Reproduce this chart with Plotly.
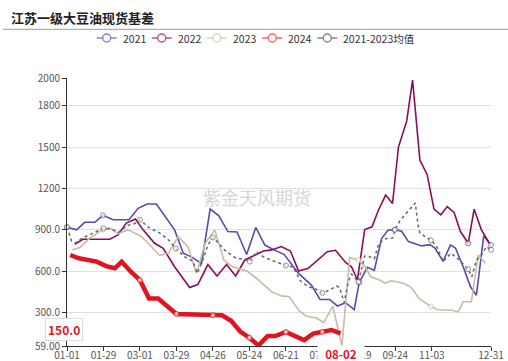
import plotly.graph_objects as go

# ---------------- data (x = position along the category axis, half-category units) ----------------
x_2021 = [0, 2.1, 3.9, 6.1, 7.9, 10.1, 13.6, 15.6, 17.6, 19.6, 23.6, 25.5, 27.6, 29.5, 31.4, 33.3, 35.3, 37.3, 39.4, 41.4,
          43.4, 45.4, 47.6, 50.8, 53.6, 55.5, 57.6, 59.3, 61.1, 63, 64.1, 65.9, 67.4, 69, 70.4, 71.9, 73.4, 74.9, 77.8, 79.6,
          80.7, 82.5, 84.1, 85.2, 86.9, 88.5, 89.8, 91.4, 93]
y_2021 = [920, 900, 955, 955, 1005, 973, 973, 1056, 1087, 1087, 900, 731, 699, 655, 1051, 1002, 888, 885, 722, 918,
          790, 755, 723, 585, 500, 396, 396, 349, 373, 323, 520, 629, 606, 837, 897, 902, 890, 815, 784, 793,
          769, 672, 791, 769, 633, 488, 427, 856, 791]

x_2022 = [1.7, 3.5, 9.4, 11.2, 13, 15, 16.7, 19.2, 21.1, 23.6, 26.9, 28.7, 30.9, 32.9, 35, 37, 39, 43.1, 44.9, 47,
          49, 50.8, 52.9, 57.1, 58.9, 61.1, 62.4, 63.7, 65.3, 66.9, 68.3, 69.9, 71.4, 72.7, 74.5, 75.8, 77.4, 79, 80.5, 82,
          83.4, 84.9, 86.3, 88, 89.3, 90.9, 92.6]
y_2022 = [796, 832, 832, 864, 949, 979, 900, 803, 767, 633, 483, 504, 649, 566, 649, 566, 682, 747, 755, 779,
          747, 602, 622, 742, 752, 664, 633, 539, 902, 922, 1042, 1152, 1091, 1500, 1687, 1985, 1405, 1300, 1050, 1009,
          1069, 1026, 888, 803, 1050, 900, 805]

x_2023 = [1.2, 2.9, 5, 7.9, 9.4, 11.2, 13.4, 16.3, 18.3, 20.3, 22.3, 24.4, 26.6, 28.4, 30.3, 32.4, 34.4, 36.4, 39.5, 41.9,
          44.9, 47.2, 48.7, 50.9, 52.5, 54.7, 56.3, 58.3, 60.3, 62, 63.9, 65.3, 66.6, 68.8, 69.7, 71.2, 73.9, 75.5, 77.2, 79.8,
          81.4, 84.4, 85.8, 86.9, 88.7, 90.2, 91.8]
y_2023 = [755, 774, 840, 902, 915, 873, 900, 853, 787, 715, 733, 851, 774, 585, 803, 900, 682, 631, 602, 539,
          452, 420, 417, 315, 275, 262, 229, 347, 59, 699, 682, 638, 562, 533, 515, 531, 511, 484, 404, 345,
          322, 318, 306, 379, 379, 718, 658]

x_2024 = [0.7, 2.6, 6.5, 8.6, 10.5, 12, 14, 16, 18, 20, 24, 27, 32, 34, 36, 38, 40, 42, 44, 45.7,
          48, 50, 52, 54, 56, 58, 60]
y_2024 = [718, 694, 670, 638, 622, 670, 597, 536, 403, 403, 291, 289, 282, 282, 242, 164, 119, 63, 131, 131,
          161, 131, 102, 149, 161, 175, 150]

x_avg = [0, 1, 1.9, 3.3, 5.4, 8, 10.1, 11.3, 13.2, 14.9, 16, 17.9, 20.3, 22.3, 23.9, 25.6, 27.5, 28.6, 30.2, 30.9,
         32, 33.1, 34.5, 36.8, 38.6, 40.1, 41.5, 43, 44.7, 48, 49.6, 51.2, 52.9, 54.4, 56, 57.6, 59.1, 59.8, 60.8, 61.7,
         62.4, 63.9, 65.3, 66.4, 67.4, 68.4, 69.7, 71.5, 71.9, 73, 74.3, 75.5, 76.4, 77, 77.4, 79.8, 81.1, 82.5, 84.2, 85.6,
         88, 88.8, 89.8, 90.8, 92, 93]
y_avg = [920, 820, 805, 840, 871, 912, 902, 882, 931, 946, 973, 918, 878, 827, 764, 709, 675, 585, 718, 791,
         845, 809, 755, 700, 687, 670, 742, 706, 682, 642, 631, 531, 488, 475, 444, 464, 493, 482, 373, 524,
         580, 524, 711, 706, 689, 803, 835, 842, 900, 965, 1016, 1060, 1094, 936, 876, 825, 779, 670, 731, 696,
         615, 560, 682, 711, 779, 755]

tick_pos = [0, 8, 16, 24, 32, 40, 48, 56, 64, 72, 80, 93]
tick_labels = ["01-01", "01-29", "03-01", "03-29", "04-26", "05-24", "06-21", "07-19", "08-19", "09-24", "11-03", "12-31"]
symbol_pos = [0, 8, 16, 24, 32, 40, 48, 56, 64, 72, 80, 88, 93]

y_ticks = [59, 300, 600, 900, 1200, 1500, 1800, 2000]
y_tick_labels = ["59.00", "300.0", "600.0", "900.0", "1200", "1500", "1800", "2000"]

names = ["2021", "2022", "2023", "2024", "2021-2023均值"]
colors = ["#5B4BA6", "#880E5C", "#C9BBA6", "#E0141E", "#666666"]
legend_colors = ["#8F83C8", "#B0578C", "#DCD1C3", "#F06A6A", "#8A8A8A"]

pointer_x = 60
pointer_x_label = "08-02"
pointer_y = 150
pointer_y_label = "150.0"

FONT = "Noto Sans CJK SC, Open Sans, sans-serif"

# ---------------- figure ----------------
W, H = 508, 361
ML, MR, MT, MB = 67, 17, 78, 15
PW, PH = W - ML - MR, H - MT - MB


def px(xp):
    return (xp - ML) / PW


def py(yp):
    return (H - MB - yp) / PH


def sizes(xs, s=5):
    return [s if min(abs(v - m) for m in symbol_pos) <= 0.25 else 0 for v in xs]


fig = go.Figure()
series = [(x_2021, y_2021), (x_2022, y_2022), (x_2023, y_2023), (x_2024, y_2024), (x_avg, y_avg)]
widths = [1.6, 1.6, 1.6, 4.5, 1.5]
for i, (xs, ys) in enumerate(series):
    fig.add_trace(go.Scatter(
        x=xs, y=ys, name=names[i], mode="lines+markers",
        line=dict(color=colors[i], width=widths[i], dash="dot" if i == 4 else "solid"),
        marker=dict(size=sizes(xs), color="white", line=dict(color=colors[i], width=1)),
        cliponaxis=False, showlegend=False,
    ))

shapes = []
annotations = []

# title + separator line
annotations.append(dict(text="<b>江苏一级大豆油现货基差</b>", xref="paper", yref="paper",
                        x=px(9), y=py(17.5), xanchor="left", yanchor="middle", showarrow=False,
                        font=dict(family=FONT, size=13, color="#222")))
shapes.append(dict(type="line", xref="paper", yref="paper", x0=px(3), x1=px(508), y0=py(29.3), y1=py(29.3),
                   line=dict(color="#9a9a9a", width=1)))

# custom legend
leg_x = [96.7, 151.7, 206.7, 262.3, 317.3]
leg_y = 38
for i, sx in enumerate(leg_x):
    shapes.append(dict(type="line", xref="paper", yref="paper", x0=px(sx), x1=px(sx + 20),
                       y0=py(leg_y), y1=py(leg_y), line=dict(color=legend_colors[i], width=1.5)))
    shapes.append(dict(type="circle", xref="paper", yref="paper", x0=px(sx + 6), x1=px(sx + 14),
                       y0=py(leg_y + 4), y1=py(leg_y - 4), fillcolor="white",
                       line=dict(color=legend_colors[i], width=1.5)))
    annotations.append(dict(text=names[i], xref="paper", yref="paper", x=px(sx + 24), y=py(leg_y),
                            xanchor="left", yanchor="middle", showarrow=False,
                            font=dict(family=FONT, size=10.5, color="#333")))

# watermark
annotations.append(dict(text="紫金天风期货", xref="paper", yref="paper", x=px(257), y=py(196.7),
                        showarrow=False, font=dict(family=FONT, size=18, color="#d6d6d6")))

# axis pointer labels
annotations.append(dict(text="<b>%s</b>" % pointer_x_label, xref="x", yref="paper", x=pointer_x, y=py(354),
                        yanchor="middle", showarrow=False, bgcolor="white", width=46, borderpad=0,
                        font=dict(family=FONT, size=11.5, color="#E0141E")))
annotations.append(dict(text="<b>%s</b>" % pointer_y_label, xref="paper", yref="y", x=px(45), y=pointer_y,
                        yshift=4, showarrow=False, bgcolor="white", bordercolor="#dddddd", borderwidth=1,
                        borderpad=2, font=dict(family=FONT, size=12, color="#E0141E")))

fig.update_layout(
    width=W, height=H, margin=dict(l=ML, r=MR, t=MT, b=MB, autoexpand=False),
    paper_bgcolor="white", plot_bgcolor="white",
    font=dict(family=FONT, size=10, color="#555"),
    shapes=shapes, annotations=annotations, showlegend=False,
    xaxis=dict(range=[0, 93], tickvals=tick_pos, ticktext=tick_labels, showgrid=False, zeroline=False,
               showline=True, linecolor="#333", linewidth=1, ticks="outside", ticklen=4, tickcolor="#333",
               tickfont=dict(size=10, color="#555"), ticklabeloverflow="allow", automargin=False,
               ticklabelstandoff=-4),
    yaxis=dict(range=[59, 2000], tickvals=y_ticks, ticktext=y_tick_labels, showgrid=True, gridcolor="#e0e0e0",
               zeroline=False, showline=True, linecolor="#333", linewidth=1, ticks="outside", ticklen=4,
               tickcolor="#333", tickfont=dict(size=10, color="#555"), automargin=False),
)

fig.write_html("out.html", config={"staticPlot": True},
               post_script="document.body.style.margin='0';document.body.style.overflow='hidden';")
